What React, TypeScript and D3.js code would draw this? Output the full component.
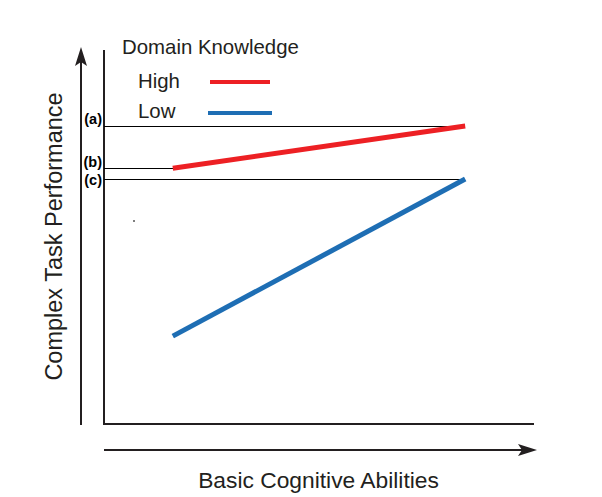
import React from "react";
import * as d3 from "d3";

const abilityLevels = [16, 84];
const highKnowledge = [68.4, 79.7];
const lowKnowledge = [23.5, 65.5];
const markerLabels = ["(a)", "(b)", "(c)"];
const legendLabels = ["High", "Low"];

const W = 602, H = 497;

export default function App() {
  const x = d3.scaleLinear().domain([0, 100]).range([104, 534]);
  const y = d3.scaleLinear().domain([0, 100]).range([424, 50]);
  const line = d3.line<[number, number]>().x(d => x(d[0])).y(d => y(d[1]));
  const hiPts = abilityLevels.map((a, i) => [a, highKnowledge[i]] as [number, number]);
  const loPts = abilityLevels.map((a, i) => [a, lowKnowledge[i]] as [number, number]);
  const red = "#ED2024";
  const blue = "#1E6EB4";
  const font = "'Liberation Sans', Arial, sans-serif";
  const markers = [
    { label: markerLabels[0], v: highKnowledge[1], x2: x(abilityLevels[1]), dy: -2 },
    { label: markerLabels[1], v: highKnowledge[0], x2: x(abilityLevels[0]), dy: -1 },
    { label: markerLabels[2], v: lowKnowledge[1], x2: x(abilityLevels[1]), dy: 6 },
  ];
  return (
    <svg width={W} height={H} style={{ position: "absolute", left: 0, top: 0 }} fontFamily={font}>
      <rect width={W} height={H} fill="#fff" />
      {/* axes box */}
      <path d={`M${x(0)},${y(100)}V${y(0)}H${x(100)}`} fill="none" stroke="#231F20" strokeWidth={2} />
      {/* arrows */}
      <line x1={81} y1={425} x2={81} y2={58} stroke="#231F20" strokeWidth={2} />
      <path d="M81,47 L87,66 L81,62 L75,66 Z" fill="#231F20" />
      <line x1={104} y1={450} x2={526} y2={450} stroke="#231F20" strokeWidth={2} />
      <path d="M537,450 L518,444 L522,450 L518,456 Z" fill="#231F20" />
      {/* marker lines */}
      {markers.map((m, i) => (
        <g key={i}>
          <line x1={x(0)} x2={m.x2} y1={Math.round(y(m.v)) + 0.5} y2={Math.round(y(m.v)) + 0.5} stroke="#000" strokeWidth={1} shapeRendering="crispEdges" />
          <text x={102} y={y(m.v) + m.dy} textAnchor="end" fontSize={14.5} fontWeight="bold" fill="#000">{m.label}</text>
        </g>
      ))}
      {/* data lines */}
      <path d={line(hiPts) || ""} stroke={red} strokeWidth={5} fill="none" />
      <path d={line(loPts) || ""} stroke={blue} strokeWidth={5} fill="none" />
      {/* stray dot */}
      <rect x={133.5} y={220} width={1} height={2} fill="#000" />
      {/* legend */}
      <text x={122} y={54} fontSize={20.4} fill="#231F20">Domain Knowledge</text>
      <text x={138} y={88} fontSize={20.4} fill="#231F20">{legendLabels[0]}</text>
      <line x1={210} x2={270} y1={82} y2={82} stroke={red} strokeWidth={4} />
      <text x={138} y={118} fontSize={20.4} fill="#231F20">{legendLabels[1]}</text>
      <line x1={208} x2={272} y1={113} y2={113} stroke={blue} strokeWidth={4} />
      {/* axis titles */}
      <text x={318.5} y={488} textAnchor="middle" fontSize={22.8} fill="#231F20">Basic Cognitive Abilities</text>
      <text transform="translate(62,236.5) rotate(-90)" textAnchor="middle" fontSize={23.5} fill="#231F20">Complex Task Performance</text>
    </svg>
  );
}
